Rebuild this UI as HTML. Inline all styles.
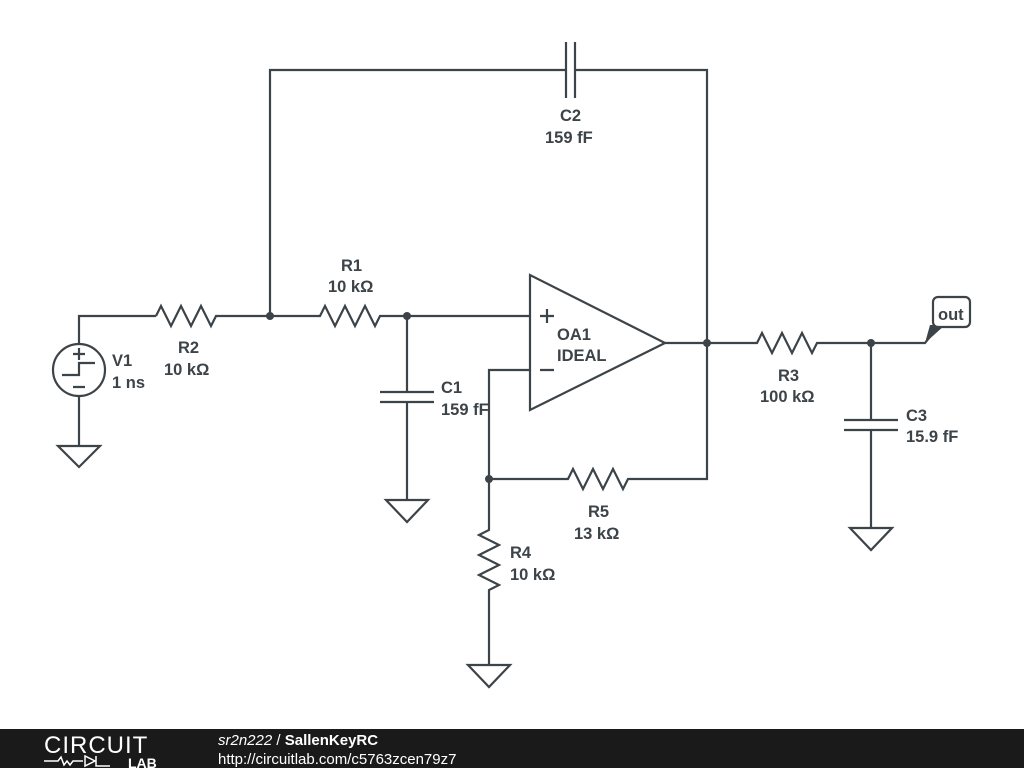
<!DOCTYPE html>
<html><head><meta charset="utf-8"><style>
html,body{margin:0;padding:0;background:#fff;width:1024px;height:768px;overflow:hidden}
svg{display:block}
text{font-family:"Liberation Sans",sans-serif;font-weight:bold;font-size:16.5px;fill:#3d4449}
</style></head><body>
<svg width="1024" height="768" viewBox="0 0 1024 768">
<g stroke="#3d4449" stroke-width="2.2" fill="none" stroke-linejoin="miter">
<circle cx="79" cy="370" r="26" fill="#fff"/>
<path d="M79 344V316H156"/>
<path d="M156 316l5 -10l10 20l10 -20l10 20l10 -20l10 20l5 -10H270"/>
<path d="M79 396V446"/><path d="M58 446H100L79 467Z"/>
<path d="M73 354h12M79 348v12M73 387h12"/>
<path d="M62 375h17v-12h16"/>
<path d="M270 316V70H565M566 42V98M575 42V98M576 70H707V343"/>
<path d="M270 316H320l5 -10l10 20l10 -20l10 20l10 -20l10 20l5 -10H530"/>
<path d="M407 316V392M380 392H434M380 402H434M407 402V500"/><path d="M386 500H428L407 522Z"/>
<path d="M530 275V410L665 343Z" fill="#fff"/>
<path d="M540 316h14M547 309v14M540 370h14"/>
<path d="M665 343H757l5 -10l10 20l10 -20l10 20l10 -20l10 20l5 -10H925l8 -10"/>
<path d="M530 370H489V530l-10 5l20 10l-20 10l20 10l-20 10l20 10l-10 5V665"/>
<path d="M468 665H510L489 687Z"/>
<path d="M489 479H568l5 -10l10 20l10 -20l10 20l10 -20l10 20l5 -10H707V343"/>
<path d="M871 343V420M844 420H898M844 430H898M871 430V528"/><path d="M850 528H892L871 550Z"/>
</g>
<path d="M925 343L945 325H930Z" fill="#3d4449"/>
<rect x="933" y="297" width="37" height="30" rx="5" fill="#fff" stroke="#3d4449" stroke-width="2.2"/>
<g fill="#3d4449">
<circle cx="270" cy="316" r="4"/><circle cx="407" cy="316" r="4"/><circle cx="707" cy="343" r="4"/>
<circle cx="871" cy="343" r="4"/><circle cx="489" cy="479" r="4"/>
</g>
<text x="938" y="320">out</text>
<text x="112" y="366">V1</text><text x="112" y="388">1 ns</text>
<text x="178" y="353">R2</text><text x="164" y="375">10 kΩ</text>
<text x="341" y="271">R1</text><text x="328" y="292">10 kΩ</text>
<text x="560" y="121">C2</text><text x="545" y="143">159 fF</text>
<text x="441" y="393">C1</text><text x="441" y="415">159 fF</text>
<text x="557" y="340">OA1</text><text x="557" y="361">IDEAL</text>
<text x="778" y="381">R3</text><text x="760" y="402">100 kΩ</text>
<text x="906" y="421">C3</text><text x="906" y="442">15.9 fF</text>
<text x="588" y="517">R5</text><text x="574" y="539">13 kΩ</text>
<text x="510" y="558">R4</text><text x="510" y="580">10 kΩ</text>
<rect x="0" y="729" width="1024" height="39" fill="#1a1a1a"/>
<text x="44" y="753" style="font-weight:normal;font-size:24px;fill:#fff;letter-spacing:1px">CIRCUIT</text>
<path d="M44 761h14l3 -4l3 8l3 -4l3 4l3 -4h10M85 756v10l10 -5zM96 756v10h14" stroke="#fff" stroke-width="1.5" fill="none"/>
<text x="128" y="768" style="font-size:14px;fill:#fff">LAB</text>
<text x="218" y="745" style="font-weight:normal;font-style:italic;font-size:15px;fill:#fff">sr2n222 <tspan style="font-style:normal">/</tspan> <tspan style="font-style:normal;font-weight:bold">SallenKeyRC</tspan></text>
<text x="218" y="764" style="font-weight:normal;font-size:15px;fill:#fff">http://circuitlab.com/c5763zcen79z7</text>
</svg>
</body></html>
